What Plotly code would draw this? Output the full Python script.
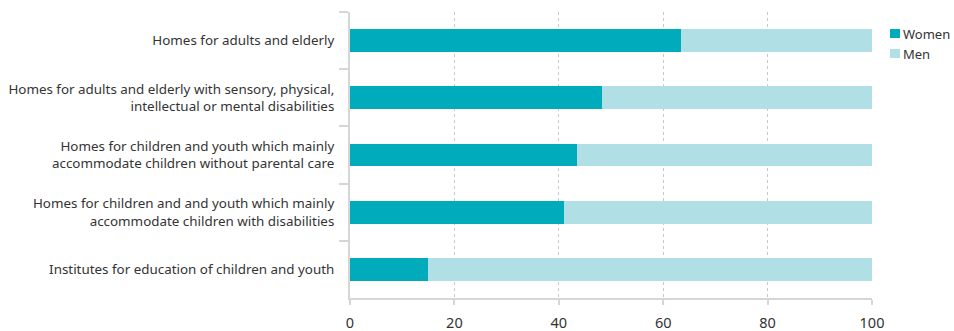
import plotly.graph_objects as go

categories = [
    "Homes for adults and elderly",
    "Homes for adults and elderly with sensory, physical,<br>intellectual or mental disabilities",
    "Homes for children and youth which mainly<br>accommodate children without parental care",
    "Homes for children and and youth which mainly<br>accommodate children with disabilities",
    "Institutes for education of children and youth",
]
women = [63.4, 48.3, 43.5, 40.9, 15.0]
men = [100 - w for w in women]
x_ticks = [0, 20, 40, 60, 80, 100]

WOMEN_COLOR = "#00abbc"
MEN_COLOR = "#b0e0e6"
AXIS_COLOR = "#d6d6d6"
FONT = "Noto Sans"

series = [("Women", women, WOMEN_COLOR), ("Men", men, MEN_COLOR)]

fig = go.Figure()
for name, vals, color in series:
    fig.add_trace(go.Bar(y=categories, x=vals, name=name, orientation="h",
                         marker=dict(color=color, line=dict(width=0))))

# Compact key to the right of the plot area: small square + label per series
for i, (name, _, color) in enumerate(series):
    top = -17 - 20 * i
    fig.add_shape(type="rect", xref="paper", yref="paper",
                  xsizemode="pixel", ysizemode="pixel", xanchor=1, yanchor=1,
                  x0=18, x1=28, y0=top - 9, y1=top,
                  fillcolor=color, line=dict(width=0))
    fig.add_annotation(x=1, y=1, xref="paper", yref="paper",
                       xanchor="left", yanchor="middle",
                       xshift=29, yshift=top - 4.5,
                       text=name, showarrow=False,
                       font=dict(size=13, color="#333333"))

fig.update_layout(
    width=954, height=331,
    margin=dict(l=350, r=82, t=12, b=33),
    barmode="stack",
    bargap=0.6,
    showlegend=False,
    plot_bgcolor="white",
    paper_bgcolor="white",
    font=dict(family=FONT, size=13.4, color="#333333"),
    xaxis=dict(
        range=[0, 100], tickvals=x_ticks, ticktext=[str(v) for v in x_ticks],
        automargin=False,
        showgrid=True, gridcolor="#c8c8c8", griddash="dot", gridwidth=1,
        zeroline=False, showline=True, linecolor=AXIS_COLOR, linewidth=2,
        ticks="outside", ticklen=5, tickcolor=AXIS_COLOR, tickwidth=2,
        ticklabelstandoff=6,
        tickfont=dict(size=14.5, color="#333333"),
    ),
    yaxis=dict(
        autorange="reversed", showgrid=False, zeroline=False, automargin=False,
        showline=True, linecolor=AXIS_COLOR, linewidth=2,
        ticks="outside", tickson="boundaries", ticklen=9,
        tickcolor=AXIS_COLOR, tickwidth=2, ticklabelstandoff=11,
        tickfont=dict(size=13.4, color="#333333"),
    ),
)

fig.write_html("out.html")
